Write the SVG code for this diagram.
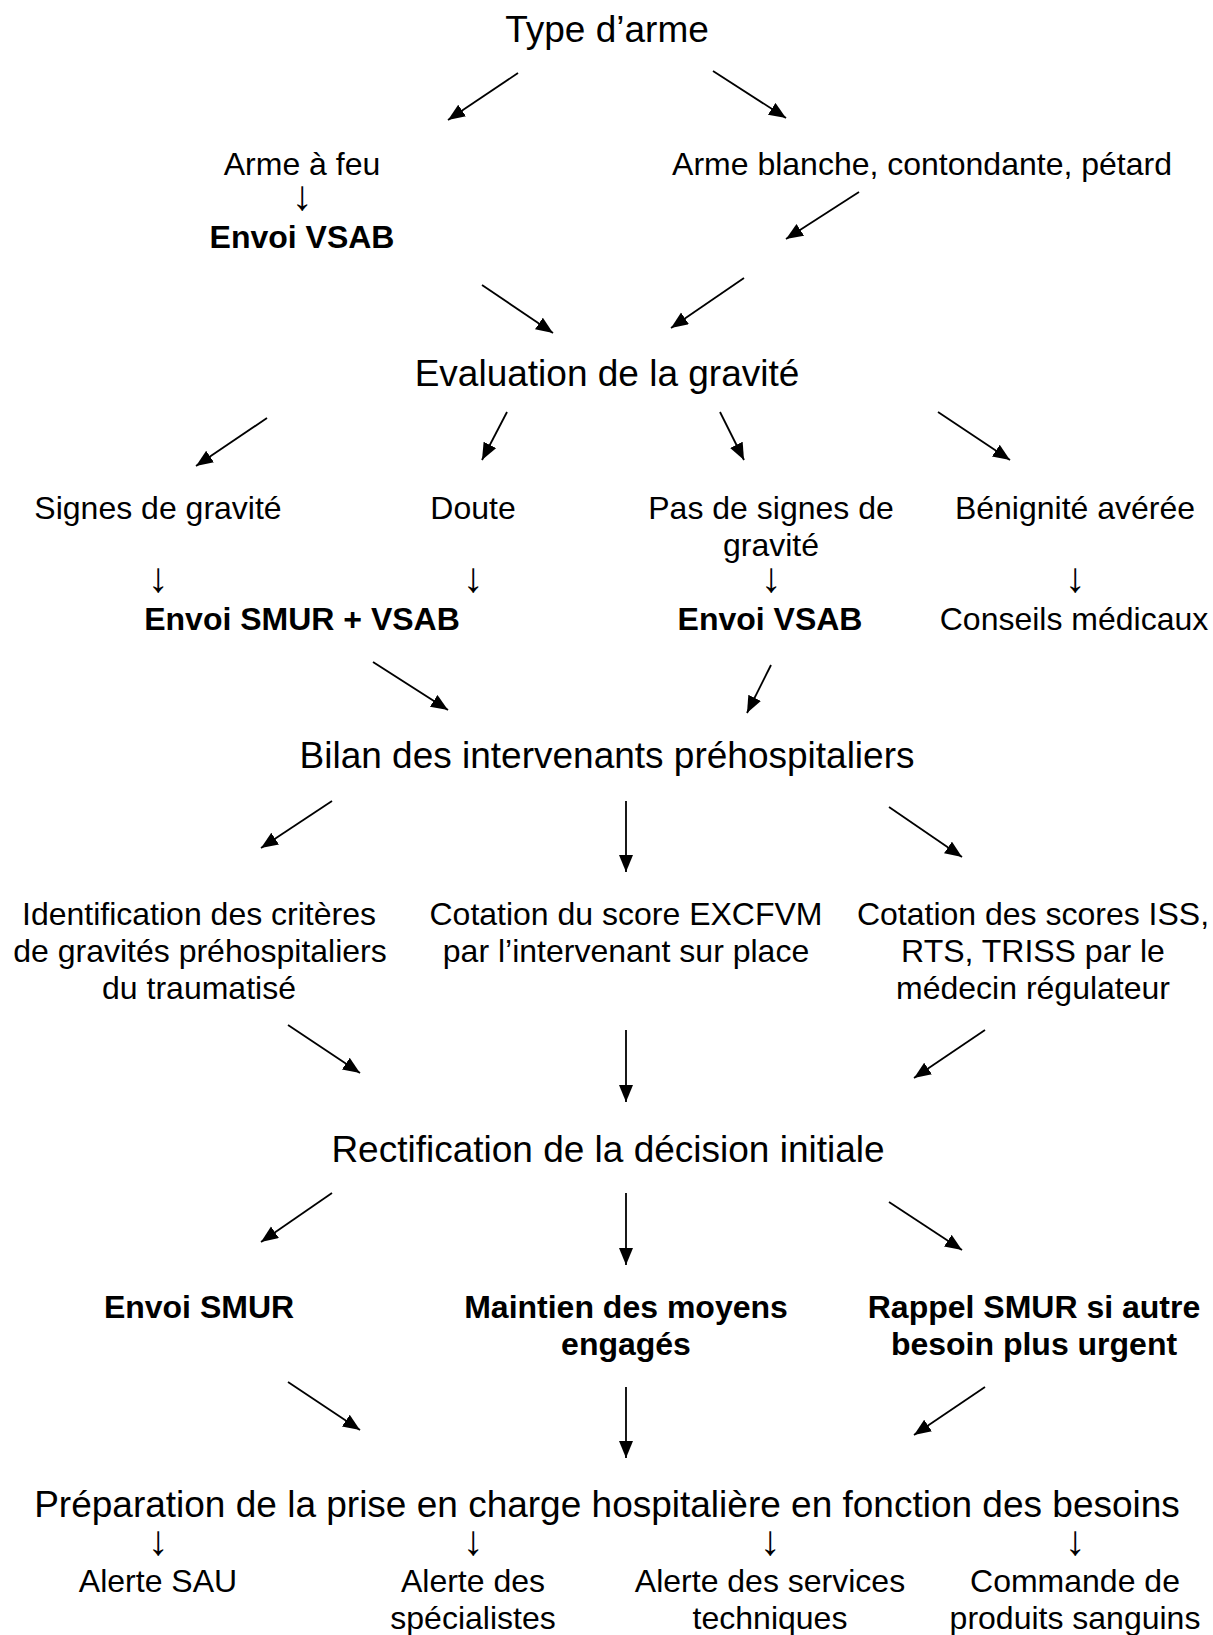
<svg xmlns="http://www.w3.org/2000/svg" width="1213" height="1635" viewBox="0 0 1213 1635">
<defs>
<style>
text{font-family:"Liberation Sans",Arial,sans-serif;fill:#000;text-anchor:middle}
.h{font-size:37px}
.s{font-size:32px}
.b{font-size:32px;font-weight:bold}
.a{font-size:42px}
.c line{stroke:#000;stroke-width:1.8;marker-end:url(#ah)}
</style>
<marker id="ah" markerUnits="userSpaceOnUse" markerWidth="18" markerHeight="15" refX="17" refY="7" orient="auto" viewBox="0 0 18 15">
<path d="M0,0 L17,7 L0,14 z" fill="#000"/>
</marker>
</defs>
<rect width="1213" height="1635" fill="#fff"/>
<g id="n-type"><text class="h" x="607" y="42">Type d’arme</text></g>
<g id="n-feu"><text class="s" x="302" y="175">Arme à feu</text><text class="a" x="302" y="210">↓</text><text class="b" x="302" y="248">Envoi VSAB</text></g>
<g id="n-blanche"><text class="s" x="922" y="175">Arme blanche, contondante, pétard</text></g>
<g id="n-eval"><text class="h" x="607" y="386">Evaluation de la gravité</text></g>
<g id="n-signes"><text class="s" x="158" y="519">Signes de gravité</text><text class="a" x="158" y="592">↓</text></g>
<g id="n-doute"><text class="s" x="473" y="519">Doute</text><text class="a" x="473" y="592">↓</text></g>
<g id="n-smurvsab"><text class="b" x="302" y="630">Envoi SMUR + VSAB</text></g>
<g id="n-pas"><text class="s" x="771" y="519">Pas de signes de</text><text class="s" x="771" y="556">gravité</text><text class="a" x="771" y="592">↓</text><text class="b" x="770" y="630">Envoi VSAB</text></g>
<g id="n-benin"><text class="s" x="1075" y="519">Bénignité avérée</text><text class="a" x="1075" y="592">↓</text><text class="s" x="1074" y="630">Conseils médicaux</text></g>
<g id="n-bilan"><text class="h" x="607" y="768">Bilan des intervenants préhospitaliers</text></g>
<g id="n-ident"><text class="s" x="199" y="925">Identification des critères</text><text class="s" x="200" y="962">de gravités préhospitaliers</text><text class="s" x="199" y="999">du traumatisé</text></g>
<g id="n-excfvm"><text class="s" x="626" y="925">Cotation du score EXCFVM</text><text class="s" x="626" y="962">par l’intervenant sur place</text></g>
<g id="n-iss"><text class="s" x="1033" y="925">Cotation des scores ISS,</text><text class="s" x="1033" y="962">RTS, TRISS par le</text><text class="s" x="1033" y="999">médecin régulateur</text></g>
<g id="n-rect"><text class="h" x="608" y="1162">Rectification de la décision initiale</text></g>
<g id="n-smur"><text class="b" x="199" y="1318">Envoi SMUR</text></g>
<g id="n-maint"><text class="b" x="626" y="1318">Maintien des moyens</text><text class="b" x="626" y="1355">engagés</text></g>
<g id="n-rappel"><text class="b" x="1034" y="1318">Rappel SMUR si autre</text><text class="b" x="1034" y="1355">besoin plus urgent</text></g>
<g id="n-prep"><text class="h" x="607" y="1517">Préparation de la prise en charge hospitalière en fonction des besoins</text></g>
<g id="n-sau"><text class="a" x="158" y="1555">↓</text><text class="s" x="158" y="1592">Alerte SAU</text></g>
<g id="n-spec"><text class="a" x="473" y="1555">↓</text><text class="s" x="473" y="1592">Alerte des</text><text class="s" x="473" y="1629">spécialistes</text></g>
<g id="n-tech"><text class="a" x="770" y="1555">↓</text><text class="s" x="770" y="1592">Alerte des services</text><text class="s" x="770" y="1629">techniques</text></g>
<g id="n-sang"><text class="a" x="1075" y="1555">↓</text><text class="s" x="1075" y="1592">Commande de</text><text class="s" x="1075" y="1629">produits sanguins</text></g>
<g id="connectors" class="c">
<line x1="518" y1="73" x2="448" y2="120"/>
<line x1="713" y1="71" x2="786" y2="118"/>
<line x1="859" y1="192" x2="786" y2="239"/>
<line x1="482" y1="285" x2="553" y2="333"/>
<line x1="744" y1="278" x2="671" y2="328"/>
<line x1="267" y1="418" x2="196" y2="466"/>
<line x1="507" y1="412" x2="482" y2="460"/>
<line x1="720" y1="412" x2="744" y2="460"/>
<line x1="938" y1="412" x2="1010" y2="460"/>
<line x1="373" y1="662" x2="448" y2="710"/>
<line x1="771" y1="665" x2="747" y2="713"/>
<line x1="332" y1="801" x2="261" y2="848"/>
<line x1="626" y1="801" x2="626" y2="872"/>
<line x1="889" y1="807" x2="962" y2="857"/>
<line x1="288" y1="1025" x2="360" y2="1073"/>
<line x1="626" y1="1030" x2="626" y2="1102"/>
<line x1="985" y1="1030" x2="914" y2="1078"/>
<line x1="332" y1="1193" x2="261" y2="1242"/>
<line x1="626" y1="1193" x2="626" y2="1265"/>
<line x1="889" y1="1202" x2="962" y2="1250"/>
<line x1="288" y1="1382" x2="360" y2="1430"/>
<line x1="626" y1="1387" x2="626" y2="1458"/>
<line x1="985" y1="1387" x2="914" y2="1435"/>
</g>
</svg>
